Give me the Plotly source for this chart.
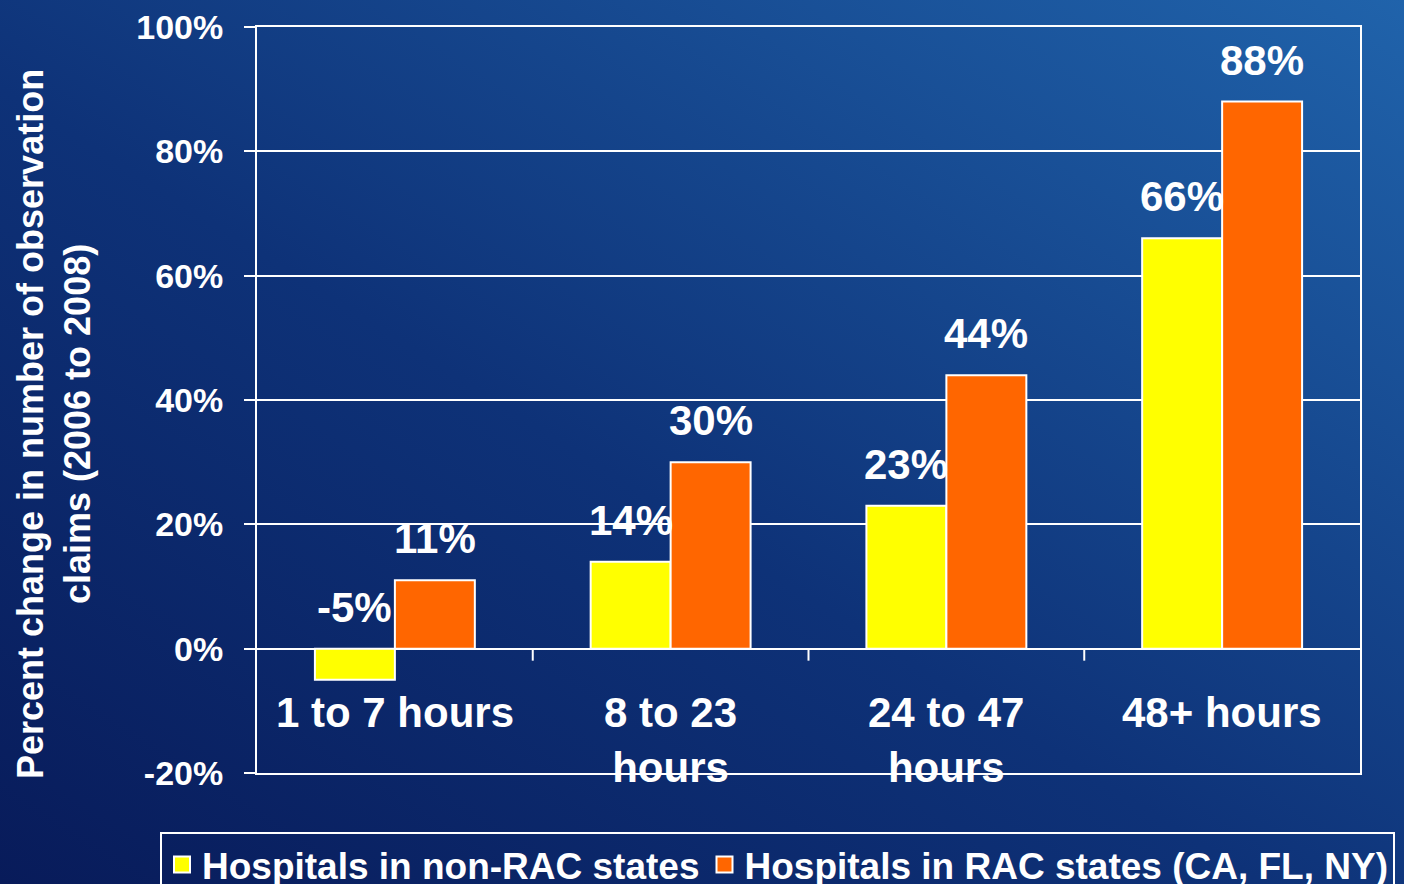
import base64
import plotly.graph_objects as go

# ---------------- data ----------------
categories = ["1 to 7 hours", "8 to 23 hours", "24 to 47 hours", "48+ hours"]
tick_labels = ["1 to 7 hours", "8 to 23<br>hours", "24 to 47<br>hours", "48+ hours"]
non_rac = [-5, 14, 23, 66]
rac = [11, 30, 44, 88]
series_names = ["Hospitals in non-RAC states", "Hospitals in RAC states (CA, FL, NY)"]
y_ticks = [-20, 0, 20, 40, 60, 80, 100]
y_tick_text = [f"{v}%" for v in y_ticks]
y_title = "Percent change in number of observation<br>claims (2006 to 2008)"

# ---------------- style ----------------
W, H = 1404, 884
M_L, M_R, M_T, M_B = 257, 44, 27, 111
PW, PH = W - M_L - M_R, H - M_T - M_B
FONT = "Liberation Sans, Arial, sans-serif"
YELLOW, ORANGE = "#FFFF00", "#FF6600"
GROUP_W = 0.58
BAR_W = GROUP_W / 2

svg = (
    '<svg xmlns="http://www.w3.org/2000/svg" width="1404" height="884" preserveAspectRatio="none">'
    '<defs><linearGradient id="g" x1="0" y1="1" x2="1" y2="0">'
    '<stop offset="0" stop-color="#081b5a"/>'
    '<stop offset="0.45" stop-color="#0e3278"/>'
    '<stop offset="1" stop-color="#2063ab"/>'
    '</linearGradient></defs>'
    '<rect width="1404" height="884" fill="url(#g)"/></svg>'
)
bg_src = "data:image/svg+xml;base64," + base64.b64encode(svg.encode()).decode()

fig = go.Figure()
colors = [YELLOW, ORANGE]
for vals, name, col in zip((non_rac, rac), series_names, colors):
    fig.add_trace(go.Bar(x=categories, y=vals, name=name, showlegend=False,
                         marker=dict(color=col, line=dict(color="white", width=2))))
# legend entries (square swatches)
for name, col in zip(series_names, colors):
    fig.add_trace(go.Scatter(x=[categories[0]], y=[None], name=name, mode="markers",
                             marker=dict(symbol="square", size=16, color=col,
                                         line=dict(color="white", width=2))))

annotations = []
# data labels
for i in range(len(categories)):
    for v, off in ((non_rac[i], -BAR_W / 2), (rac[i], BAR_W / 2)):
        annotations.append(dict(
            x=i + off, y=max(v, 0), xref="x", yref="y", text=f"{v}%",
            showarrow=False, yanchor="bottom", xanchor="center", yshift=16,
            font=dict(family=FONT, size=42, color="white", weight="bold")))
# category labels (below the zero line)
for i, lab in enumerate(tick_labels):
    annotations.append(dict(
        x=i, y=0, xref="x", yref="y", text=lab, showarrow=False,
        yanchor="top", xanchor="center", yshift=-38,
        font=dict(family=FONT, size=42, color="white", weight="bold")))
# y-axis title
annotations.append(dict(
    x=-(M_L - 54) / PW, y=(773 - 424) / PH, xref="paper", yref="paper",
    text=y_title, showarrow=False, textangle=-90,
    xanchor="center", yanchor="middle",
    font=dict(family=FONT, size=36, color="white", weight="bold")))

# tick marks at category boundaries on the zero line
shapes = []
for i in range(len(categories) - 1):
    shapes.append(dict(type="line", xref="x", yref="y", ysizemode="pixel", yanchor=0,
                       x0=i + 0.5, x1=i + 0.5, y0=0, y1=-12,
                       line=dict(color="white", width=2)))

fig.update_layout(
    width=W, height=H,
    margin=dict(l=M_L, r=M_R, t=M_T, b=M_B, autoexpand=False),
    paper_bgcolor="#0f3479", plot_bgcolor="rgba(0,0,0,0)",
    images=[dict(source=bg_src, xref="paper", yref="paper",
                 x=-M_L / PW, y=1 + M_T / PH, sizex=W / PW, sizey=H / PH,
                 xanchor="left", yanchor="top", sizing="stretch", layer="below")],
    barmode="group", bargap=1 - GROUP_W, bargroupgap=0,
    showlegend=True,
    legend=dict(orientation="h", x=-(M_L - 160) / PW, y=-(832 - 773) / PH,
                xanchor="left", yanchor="top",
                bgcolor="rgba(0,0,0,0)", bordercolor="white", borderwidth=2,
                font=dict(family=FONT, size=37, color="white", weight="bold"),
                itemwidth=30, traceorder="normal"),
    annotations=annotations, shapes=shapes,
    font=dict(family=FONT, color="white"),
)
fig.update_xaxes(showticklabels=False, ticks="", showgrid=False,
                 showline=True, linecolor="white", linewidth=2, mirror=True,
                 range=[-0.5, len(categories) - 0.5])
fig.update_yaxes(range=[-20, 100], tickmode="array", tickvals=y_ticks, ticktext=y_tick_text,
                 showgrid=True, gridcolor="white", gridwidth=2,
                 zeroline=True, zerolinecolor="white", zerolinewidth=2,
                 showline=True, linecolor="white", linewidth=2, mirror=True,
                 ticks="outside", ticklen=11, tickwidth=2, tickcolor="white",
                 ticklabelstandoff=14,
                 tickfont=dict(family=FONT, size=34, color="white", weight="bold"))

fig.write_html("out.html")
